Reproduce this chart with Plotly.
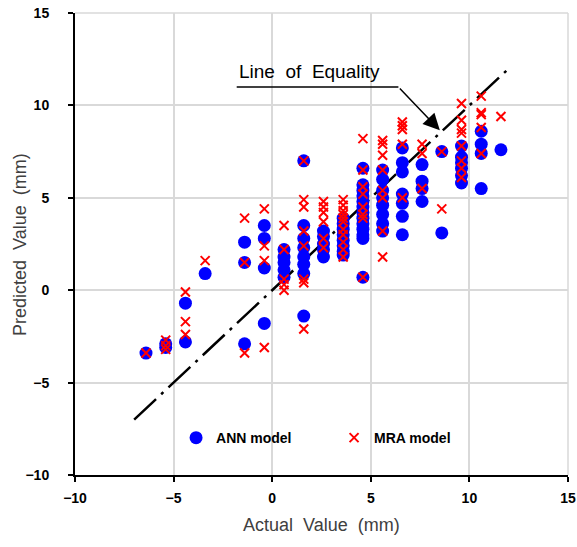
import plotly.graph_objects as go

# ---- data ----
ann_cols = {
    -6.4: [-3.4],
    -5.4: [-2.9, -3.1],
    -4.4: [-0.7, -2.8],
    -3.4: [0.9],
    -1.4: [2.6, 1.5, -2.9],
    -0.4: [3.5, 2.8, 1.2, -1.8],
    0.6: [2.2, 1.8, 1.5, 1.1, 0.7],
    1.6: [7.0, 3.5, 2.8, 2.3, 1.8, 1.4, 0.9, -1.4],
    2.6: [3.2, 2.9, 2.5, 2.2, 1.8],
    3.6: [3.9, 3.6, 3.3, 3.0, 2.7, 2.4, 2.1, 1.9],
    4.6: [6.6, 5.7, 5.4, 5.1, 4.8, 4.5, 4.2, 3.9, 3.6, 3.3, 3.0, 2.8, 0.7],
    5.6: [6.5, 6.0, 5.4, 5.0, 4.6, 4.1, 3.6, 3.2],
    6.6: [7.7, 6.9, 6.4, 5.2, 4.7, 4.0, 3.0],
    7.6: [6.8, 5.9, 5.5, 4.8],
    8.6: [7.5, 3.1],
    9.6: [7.8, 7.2, 6.9, 6.6, 6.2, 5.8],
    10.6: [8.6, 7.9, 7.4, 5.5],
    11.6: [7.6],
}
mra_cols = {
    -6.4: [-3.4],
    -5.4: [-2.7, -3.0, -3.2],
    -4.4: [-0.1, -1.7, -2.4],
    -3.4: [1.6],
    -1.4: [3.9, 1.5, -3.4],
    -0.4: [4.4, 2.4, 1.6, -3.1],
    0.6: [3.5, 2.2, 0.6, 0.3, 0.0],
    1.6: [7.0, 4.9, 4.5, 3.2, 2.4, 0.6, 0.4, -2.1],
    2.6: [4.8, 4.5, 4.2, 3.7, 2.8, 2.3],
    3.6: [4.9, 4.6, 4.3, 4.1, 3.9, 3.7, 3.3, 3.0, 2.6, 2.2, 1.8],
    4.6: [8.2, 6.5, 5.6, 5.2, 4.5, 4.1, 3.9, 0.7],
    5.6: [8.1, 7.9, 7.3, 6.5, 5.4, 5.0, 3.2, 1.8],
    6.6: [9.1, 8.9, 8.7, 7.9, 5.0],
    7.6: [7.9, 7.4, 5.5],
    8.6: [7.5, 4.4],
    9.6: [10.1, 9.2, 8.7, 8.5, 7.8, 7.0, 6.6, 6.1],
    10.6: [10.5, 9.6, 9.5, 8.8, 7.4],
    11.6: [9.4],
}
equality_x = [-7, 12]
equality_y = [-7, 12]
tick_vals = [-10, -5, 0, 5, 10, 15]

ann_x = [x for x, ys in ann_cols.items() for _ in ys]
ann_y = [y for ys in ann_cols.values() for y in ys]
mra_x = [x for x, ys in mra_cols.items() for _ in ys]
mra_y = [y for ys in mra_cols.values() for y in ys]

fig = go.Figure()
fig.add_trace(go.Scatter(x=equality_x, y=equality_y, mode="lines",
                         line=dict(color="black", width=2.5, dash="30px,7px,3px,7px"),
                         showlegend=False, hoverinfo="skip"))
fig.add_trace(go.Scatter(x=ann_x, y=ann_y, mode="markers", name="ANN model",
                         marker=dict(symbol="circle", size=13, color="#0000ff")))
fig.add_trace(go.Scatter(x=mra_x, y=mra_y, mode="markers", name="MRA model",
                         marker=dict(symbol="x-thin", size=9, color="#ff0000",
                                     line=dict(color="#ff0000", width=2))))

# gridlines at the far edges of the plot (top and right)
fig.add_shape(type="line", xref="paper", yref="paper", x0=0, x1=1, y0=1, y1=1,
              line=dict(color="#d9d9d9", width=1.5), layer="below")
fig.add_shape(type="line", xref="paper", yref="paper", x0=1, x1=1, y0=0, y1=1,
              line=dict(color="#d9d9d9", width=1.5), layer="below")

# Line of Equality callout
fig.add_shape(type="line", x0=-1.8, y0=11.0, x1=6.4, y1=11.0,
              line=dict(color="black", width=1.5))
fig.add_annotation(x=8.5, y=8.65, ax=6.4, ay=11.0, axref="x", ayref="y",
                   xref="x", yref="y", text="", showarrow=True,
                   arrowhead=2, arrowsize=2.2, arrowwidth=1.5, arrowcolor="black")
fig.add_annotation(x=-1.8, y=11.85, xref="x", yref="y", text="Line  of  Equality",
                   showarrow=False, xanchor="left", yanchor="middle",
                   font=dict(family="Liberation Sans", size=19, color="black"))

axis_common = dict(
    range=[-10, 15], tickvals=tick_vals, showgrid=True, gridcolor="#d9d9d9",
    gridwidth=1.5, zeroline=False, showline=True, linecolor="black", linewidth=2,
    ticks="outside", ticklen=5, tickwidth=2, tickcolor="black", automargin=False,
    tickfont=dict(family="Liberation Sans", size=14, color="black", weight="bold"),
)
fig.update_xaxes(**axis_common, ticklabelstandoff=4)
fig.update_yaxes(**axis_common, ticklabelstandoff=16)

W, H = 577, 547
PL, PT, PR, PB = 75, 13, 568, 475          # plot area in page pixels
pw, ph = PR - PL, PB - PT

fig.update_layout(
    width=W, height=H,
    margin=dict(l=PL, r=W - PR, t=PT, b=H - PB),
    plot_bgcolor="rgba(0,0,0,0)", paper_bgcolor="white",
    legend=dict(orientation="h", x=0.205, y=0.08, xanchor="left", yanchor="middle",
                itemwidth=30, entrywidth=113, entrywidthmode="pixels",
                bgcolor="rgba(0,0,0,0)",
                font=dict(family="Liberation Sans", size=14, color="black", weight="bold")),
)
fig.add_annotation(x=(321 - PL) / pw, y=(PB - 525) / ph, xref="paper", yref="paper",
                   text="Actual  Value  (mm)", showarrow=False,
                   xanchor="center", yanchor="middle",
                   font=dict(family="Liberation Sans", size=18, color="#404040"))
fig.add_annotation(x=(20 - PL) / pw, y=(PB - 245) / ph, xref="paper", yref="paper",
                   text="Predicted  Value  (mm)", showarrow=False, textangle=-90,
                   xanchor="center", yanchor="middle",
                   font=dict(family="Liberation Sans", size=18, color="#404040"))

fig.write_html("out.html", config={"displayModeBar": False},
               post_script="document.body.style.margin='0';document.body.style.overflow='hidden';")
